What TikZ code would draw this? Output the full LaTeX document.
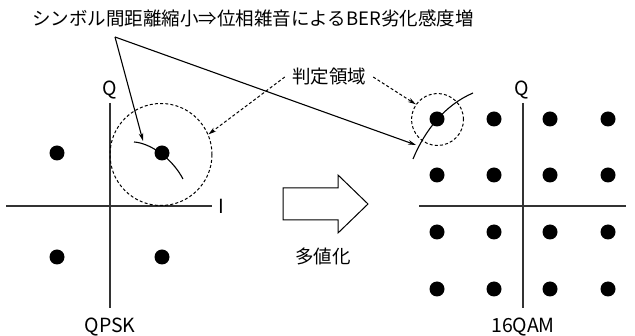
\documentclass[tikz,border=0pt]{standalone}
\usepackage{fontspec}
\setmainfont{Noto Sans CJK JP}
\usetikzlibrary{arrows.meta}
\tikzset{
  axis/.style={line width=1.4pt, draw=black!80},
  dot/.style={circle, fill=black, inner sep=0pt, minimum size=15pt},
  region/.style={circle, draw, line width=1pt, dash pattern=on 3pt off 2.2pt, inner sep=0pt},
  pointer/.style={line width=1.1pt, -{Stealth[length=8pt,width=4.5pt]}},
  dpointer/.style={line width=1pt, dash pattern=on 3pt off 2.2pt, -{Stealth[length=8pt,width=4.5pt]}},
  noise/.style={line width=1.1pt},
  lbl/.style={font=\fontsize{18.5}{21}\selectfont, inner sep=1pt},
  latin/.style={font=\fontsize{19.5}{21}\selectfont, inner sep=1pt},
}
\begin{document}
\begin{tikzpicture}[x=1pt,y=-1pt]
\useasboundingbox (0,0) rectangle (635,336);
% title
\node[lbl] (title) at (253,18) {シンボル間距離縮小⇒位相雑音によるBER劣化感度増};
\coordinate (apex) at (115,37);
% QPSK
\coordinate (qt) at (110,103); \coordinate (qb) at (110,308);
\coordinate (ql) at (6,206); \coordinate (qr) at (212,206);
\draw[axis] (qt) -- (qb);
\draw[axis] (ql) -- (qr);
\node[latin] (qQ) at (110,90) {Q};
\node[latin] (qI) at (221,206) {I};
\node[latin] (qpsk) at (110,327) {QPSK};
\node[dot] (q1) at (57,153) {};
\node[dot] (q2) at (162,153) {};
\node[dot] (q3) at (57,257) {};
\node[dot] (q4) at (162,257) {};
\node[region, minimum size=102pt] (qc) at (161,154.5) {};
\coordinate (qa1) at (134,142); \coordinate (qa2) at (183,179);
\draw[noise] (qa1) .. controls (150,143) and (172,158) .. (qa2);
% 16QAM
\coordinate (mt) at (523,103); \coordinate (mb) at (523,308);
\coordinate (ml) at (419,206); \coordinate (mr) at (626,206);
\draw[axis] (mt) -- (mb);
\draw[axis] (ml) -- (mr);
\node[latin] (mQ) at (522,90) {Q};
\node[latin] (qam) at (523,327) {16QAM};
\foreach \i/\x in {1/437,2/494,3/550,4/608}{
  \foreach \j/\y in {1/119,2/175,3/232,4/289}{
    \node[dot] (m\i\j) at (\x,\y) {};
  }
}
\node[region, minimum size=52pt] (mc) at (437.5,119.5) {};
\coordinate (ma1) at (413,159); \coordinate (ma2) at (473,93);
\draw[noise] (ma1) .. controls (425,130) and (445,105) .. (ma2);
% pointers from title
\coordinate (tipq) at (143,141);
\coordinate (tipm) at (416,145);
\draw[pointer] (apex) -- (tipq);
\draw[pointer] (apex) -- (tipm);
% decision region label
\node[lbl, inner xsep=7pt] (region) at (329,77) {判定領域};
\draw[dpointer] (region.west) -- (qc.23);
\draw[dpointer] (region.east) -- (mc.145);
% hollow arrow
\draw[line width=1pt, fill=white] (283,188) -- (338,188) -- (338,175) -- (368,204) -- (338,233) -- (338,220) -- (283,220) -- cycle;
\node[lbl] (multi) at (323,256) {多値化};
\end{tikzpicture}
\end{document}
